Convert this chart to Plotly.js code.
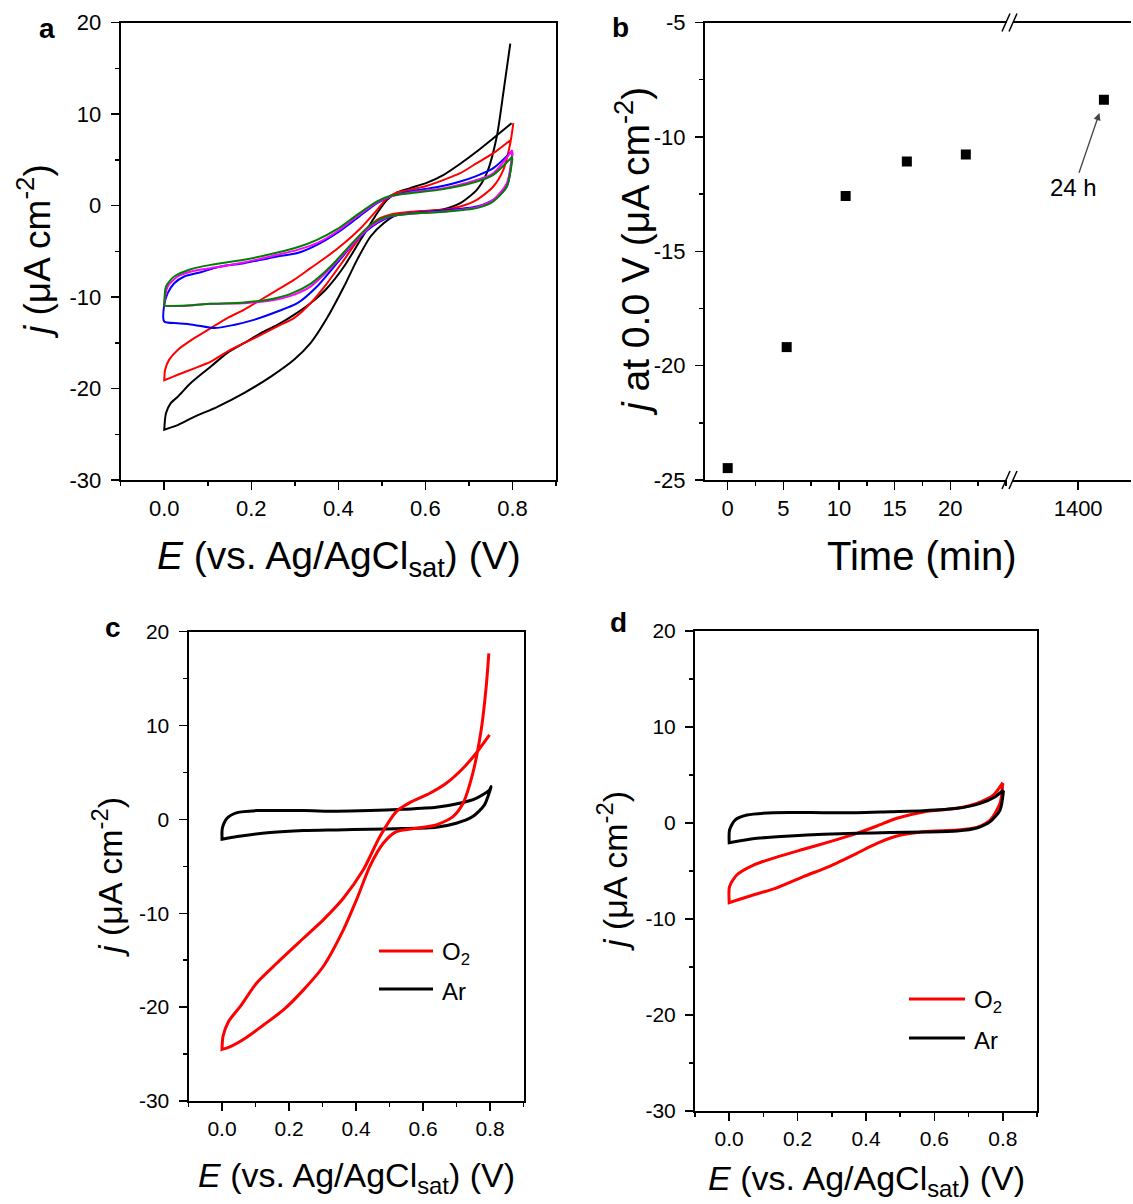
<!DOCTYPE html>
<html>
<head>
<meta charset="utf-8">
<script src="https://cdn.plot.ly/plotly-3.0.1.min.js"></script>
<style>
html,body{margin:0;padding:0;background:#fff;}
#chart{width:1133px;height:1204px;}
</style>
</head>
<body>
<div id="chart"></div>
<script>
// ---------------- DATA ----------------
// Panel a: CV cycles (upper branch / lower branch, E in V, j in uA cm-2)
const aBlackUpE = [0,0.004,0.015,0.031,0.061,0.107,0.145,0.183,0.222,0.26,0.298,0.336,0.374,0.413,0.451,0.489,0.512,0.535,0.565,0.604,0.642,0.68,0.718,0.756,0.798];
const aBlackUpJ = [-24.5,-22.7,-21.6,-20.9,-19.4,-17.6,-16.1,-15.05,-13.96,-13.05,-11.95,-10.68,-9.04,-6.67,-3.75,-0.84,0.62,1.42,1.9,2.5,3.35,4.56,5.9,7.36,9.0];
const aBlackLoE = [0,0.031,0.069,0.122,0.183,0.245,0.298,0.336,0.374,0.413,0.443,0.474,0.504,0.535,0.565,0.642,0.68,0.718,0.741,0.764,0.779,0.795];
const aBlackLoJ = [-24.5,-24.0,-23.1,-22.0,-20.5,-18.7,-16.87,-15.05,-12.3,-8.86,-5.94,-3.39,-1.93,-1.02,-0.77,-0.4,0.26,1.71,3.53,7.54,12.3,17.7];

const aRedUpE = [0,0.002,0.011,0.031,0.069,0.107,0.145,0.183,0.222,0.26,0.298,0.336,0.374,0.413,0.451,0.489,0.512,0.535,0.565,0.604,0.642,0.68,0.718,0.756,0.798];
const aRedUpJ = [-19.1,-17.97,-16.87,-15.78,-14.5,-13.4,-12.3,-11.4,-10.3,-9.22,-8.13,-6.85,-5.58,-4.12,-2.48,-0.47,0.8,1.42,1.71,2.15,2.8,3.53,4.63,5.72,7.25];
const aRedLoE = [0,0.031,0.069,0.107,0.145,0.183,0.222,0.26,0.298,0.336,0.374,0.413,0.451,0.489,0.527,0.565,0.642,0.68,0.718,0.756,0.779,0.795,0.802];
const aRedLoJ = [-19.1,-18.5,-17.8,-17.06,-15.96,-15.05,-14.14,-13.2,-12.3,-10.68,-8.5,-5.94,-3.39,-1.57,-0.91,-0.69,-0.47,-0.11,0.62,2.08,3.9,6.8,9.0];

const aBlueUpE = [0,0.008,0.023,0.046,0.084,0.122,0.183,0.222,0.26,0.306,0.351,0.397,0.443,0.489,0.52,0.565,0.604,0.642,0.68,0.718,0.756,0.798];
const aBlueUpJ = [-10.86,-9.58,-8.49,-7.76,-7.29,-6.74,-6.3,-5.94,-5.58,-5.2,-4.3,-3.0,-1.38,0.26,0.98,1.53,1.82,2.15,2.62,3.24,4.08,5.9];
const aBlueLoE = [0,0.031,0.069,0.115,0.16,0.206,0.26,0.306,0.351,0.397,0.443,0.489,0.527,0.565,0.642,0.718,0.756,0.787,0.8];
const aBlueLoJ = [-12.68,-12.86,-13.05,-13.4,-13.05,-12.5,-11.59,-10.68,-8.86,-6.3,-3.75,-1.93,-1.13,-0.84,-0.55,-0.11,0.62,2.08,5.72];

const aMagUpE = [0,0.008,0.031,0.069,0.107,0.183,0.26,0.306,0.351,0.397,0.443,0.489,0.52,0.565,0.642,0.718,0.756,0.8];
const aMagUpJ = [-10.86,-8.86,-7.76,-7.14,-6.85,-6.23,-5.39,-4.85,-4.12,-2.84,-1.2,0.33,0.98,1.42,1.9,2.8,3.53,6.08];
const aMagLoE = [0,0.046,0.107,0.183,0.245,0.29,0.336,0.382,0.428,0.474,0.512,0.565,0.642,0.718,0.756,0.787,0.8];
const aMagLoJ = [-10.93,-10.97,-10.75,-10.68,-10.39,-9.88,-8.86,-6.85,-4.48,-2.3,-1.28,-0.91,-0.66,-0.18,0.62,2.44,5.9];

const aGreenUpE = [0,0.004,0.023,0.061,0.107,0.183,0.26,0.306,0.351,0.397,0.443,0.489,0.52,0.565,0.642,0.718,0.756,0.8];
const aGreenUpJ = [-10.86,-8.86,-7.76,-6.96,-6.49,-5.94,-5.14,-4.56,-3.75,-2.59,-1.02,0.44,1.06,1.35,1.79,2.62,3.35,5.36];
const aGreenLoE = [0,0.053,0.107,0.183,0.245,0.29,0.336,0.382,0.428,0.474,0.512,0.565,0.642,0.718,0.756,0.787,0.8];
const aGreenLoJ = [-10.93,-10.93,-10.75,-10.6,-10.24,-9.66,-8.56,-6.67,-4.3,-2.11,-1.2,-0.91,-0.69,-0.29,0.44,2.08,5.17];

// Panel b: current at 0.0 V vs time
const bTime = [0, 5.3, 10.6, 16.1, 21.4, 1440];
const bJ    = [-24.48, -19.19, -12.58, -11.08, -10.77, -8.38];

// Panel c: O2 vs Ar
const cO2UpE = [0,0.003,0.02,0.055,0.104,0.164,0.243,0.302,0.362,0.421,0.471,0.52,0.56,0.62,0.669,0.719,0.758,0.798];
const cO2UpJ = [-24.5,-23.1,-21.5,-19.9,-17.4,-15.3,-12.66,-10.7,-8.4,-5.4,-1.83,0.83,1.79,2.79,3.85,5.45,7.05,9.0];
const cO2LoE = [0,0.025,0.074,0.124,0.183,0.243,0.302,0.362,0.401,0.441,0.481,0.52,0.58,0.639,0.689,0.719,0.748,0.773,0.788,0.796];
const cO2LoJ = [-24.5,-24.2,-23.2,-21.9,-20.3,-18.16,-15.67,-11.77,-8.58,-5.0,-2.54,-1.3,-0.94,-0.59,0.3,1.72,4.9,9.5,14.1,17.7];
const cArUpE = [0,0.001,0.015,0.045,0.104,0.243,0.342,0.441,0.54,0.639,0.709,0.758,0.798,0.803];
const cArUpJ = [-2.11,-0.94,0.13,0.73,0.94,0.94,0.87,0.94,1.08,1.3,1.72,2.25,3.14,3.5];
const cArLoE = [0,0.045,0.144,0.243,0.342,0.441,0.54,0.639,0.699,0.748,0.783,0.8,0.803];
const cArLoJ = [-2.11,-1.83,-1.4,-1.19,-1.12,-1.05,-0.98,-0.83,-0.41,0.3,1.55,3.14,3.5];

// Panel d: O2 vs Ar
const dO2UpE = [0,0.001,0.022,0.071,0.139,0.217,0.295,0.373,0.432,0.49,0.568,0.666,0.724,0.773,0.8];
const dO2UpJ = [-8.3,-6.63,-5.42,-4.38,-3.55,-2.74,-1.94,-1.08,-0.31,0.49,1.15,1.53,2.05,2.92,4.2];
const dO2LoE = [0,0.061,0.139,0.217,0.295,0.373,0.432,0.49,0.568,0.666,0.724,0.763,0.792,0.8];
const dO2LoJ = [-8.3,-7.6,-6.75,-5.59,-4.48,-3.16,-2.12,-1.35,-0.9,-0.73,-0.45,0.31,2.05,4.13];
const dArUpE = [0,0.001,0.017,0.052,0.13,0.276,0.373,0.471,0.568,0.666,0.734,0.778,0.802];
const dArUpJ = [-2.05,-0.73,0.31,0.83,1.08,1.08,1.08,1.18,1.28,1.53,2.05,2.74,3.44];
const dArLoE = [0,0.081,0.178,0.276,0.373,0.471,0.568,0.666,0.724,0.763,0.792,0.802];
const dArLoJ = [-2.05,-1.6,-1.35,-1.18,-1.08,-1.0,-0.94,-0.83,-0.52,0.14,1.35,3.37];

// Tick labels
const cvXTickVals = [0, 0.2, 0.4, 0.6, 0.8];
const cvXTickText = ['0.0', '0.2', '0.4', '0.6', '0.8'];
const cvYTickVals = [-30, -20, -10, 0, 10, 20];
const cvYTickText = ['-30', '-20', '-10', '0', '10', '20'];
const bXTickVals = [0, 5, 10, 15, 20];
const bXTickText = ['0', '5', '10', '15', '20'];
const bX2TickVals = [1400];
const bX2TickText = ['1400'];
const bYTickVals = [-25, -20, -15, -10, -5];
const bYTickText = ['-25', '-20', '-15', '-10', '-5'];
const legendNames = ['O<sub>2</sub>', 'Ar'];

// ---------------- LAYOUT HELPERS ----------------
const W = 1133, H = 1204;
const fx = p => p / W;
const fy = p => 1 - p / H;
const FONT = 'Arial, "Liberation Sans", Helvetica, sans-serif';

function loop(upE, upJ, loE, loJ) {
  return {
    x: upE.slice().reverse().concat(loE),
    y: upJ.slice().reverse().concat(loJ)
  };
}
function cvTrace(upE, upJ, loE, loJ, color, xa, ya, w, name) {
  const L = loop(upE, upJ, loE, loJ);
  return {x: L.x, y: L.y, xaxis: xa, yaxis: ya, type: 'scatter', mode: 'lines',
          name: name || '', showlegend: false,
          line: {color: color, width: w, shape: 'spline', smoothing: 0.7}};
}

const traces = [
  cvTrace(aBlackUpE, aBlackUpJ, aBlackLoE, aBlackLoJ, '#000000', 'x', 'y', 2),
  cvTrace(aRedUpE, aRedUpJ, aRedLoE, aRedLoJ, '#ff0000', 'x', 'y', 2),
  cvTrace(aBlueUpE, aBlueUpJ, aBlueLoE, aBlueLoJ, '#0000ff', 'x', 'y', 2),
  cvTrace(aMagUpE, aMagUpJ, aMagLoE, aMagLoJ, '#ff00ff', 'x', 'y', 2),
  cvTrace(aGreenUpE, aGreenUpJ, aGreenLoE, aGreenLoJ, '#008000', 'x', 'y', 2),
  {x: bTime.filter(t => t < 100), y: bJ.filter((v, i) => bTime[i] < 100), xaxis: 'x2', yaxis: 'y2',
   type: 'scatter', mode: 'markers', showlegend: false,
   marker: {symbol: 'square', size: 10, color: '#000'}},
  {x: bTime.filter(t => t >= 100), y: bJ.filter((v, i) => bTime[i] >= 100), xaxis: 'x3', yaxis: 'y2',
   type: 'scatter', mode: 'markers', showlegend: false,
   marker: {symbol: 'square', size: 10, color: '#000'}},
  cvTrace(cArUpE, cArUpJ, cArLoE, cArLoJ, '#000000', 'x4', 'y3', 3, 'Ar'),
  cvTrace(cO2UpE, cO2UpJ, cO2LoE, cO2LoJ, '#ff0000', 'x4', 'y3', 3, 'O2'),
  cvTrace(dO2UpE, dO2UpJ, dO2LoE, dO2LoJ, '#ff0000', 'x5', 'y4', 3, 'O2'),
  cvTrace(dArUpE, dArUpJ, dArLoE, dArLoJ, '#000000', 'x5', 'y4', 3, 'Ar')
];

function xAxis(d0, d1, anchor, range, fs, extra) {
  return Object.assign({
    domain: [fx(d0), fx(d1)], anchor: anchor, range: range,
    showline: true, linecolor: '#000', linewidth: 2, mirror: true,
    ticks: 'outside', ticklen: 8, tickwidth: 1.5, tickcolor: '#000',
    showgrid: false, zeroline: false, fixedrange: true,
    tickfont: {family: FONT, size: fs, color: '#000'},
    ticklabelstandoff: 0,
    tickmode: 'array', tickvals: cvXTickVals, ticktext: cvXTickText,
    minor: {tickmode: 'linear', tick0: 0, dtick: 0.1, ticks: 'outside', ticklen: 4, tickwidth: 1.5, tickcolor: '#000', showgrid: false}
  }, extra || {});
}
function yAxis(top, bottom, anchor, range, fs, extra) {
  return Object.assign({
    domain: [fy(bottom), fy(top)], anchor: anchor, range: range,
    showline: true, linecolor: '#000', linewidth: 2, mirror: true,
    ticks: 'outside', ticklen: 8, tickwidth: 1.5, tickcolor: '#000',
    showgrid: false, zeroline: false, fixedrange: true,
    tickfont: {family: FONT, size: fs, color: '#000'},
    ticklabelstandoff: 5,
    tickmode: 'array', tickvals: cvYTickVals, ticktext: cvYTickText,
    minor: {tickmode: 'linear', tick0: 0, dtick: 5, ticks: 'outside', ticklen: 4, tickwidth: 1.5, tickcolor: '#000', showgrid: false}
  }, extra || {});
}

const layout = {
  width: W, height: H,
  margin: {l: 0, r: 0, t: 0, b: 0},
  paper_bgcolor: '#fff', plot_bgcolor: '#fff',
  showlegend: false,
  font: {family: FONT, color: '#000'},
  xaxis: xAxis(120.7, 556, 'y', [-0.1, 0.9], 22),
  yaxis: yAxis(22.5, 480, 'x', [-30, 20], 22),
  xaxis2: xAxis(705, 1007, 'y2', [-2.04, 25.1], 22,
    {tickvals: bXTickVals, ticktext: bXTickText,
     minor: {tickmode: 'linear', tick0: 0, dtick: 2.5, ticks: 'outside', ticklen: 4, tickwidth: 1.5, tickcolor: '#000', showgrid: false}}),
  xaxis3: xAxis(1013, 1131, 'y2', [1299, 1482], 22,
    {tickvals: bX2TickVals, ticktext: bX2TickText, minor: {ticks: ''}}),
  yaxis2: yAxis(22.5, 480, 'x2', [-25, -5], 22,
    {mirror: false, tickvals: bYTickVals, ticktext: bYTickText,
     minor: {tickmode: 'linear', tick0: 0, dtick: 2.5, ticks: 'outside', ticklen: 4, tickwidth: 1.5, tickcolor: '#000', showgrid: false}}),
  xaxis4: xAxis(188.5, 523.7, 'y3', [-0.1, 0.9], 21),
  yaxis3: yAxis(631.7, 1101, 'x4', [-30, 20], 21),
  xaxis5: xAxis(695, 1037, 'y4', [-0.1, 0.9], 21),
  yaxis4: yAxis(631, 1111, 'x5', [-30, 20], 21),
  shapes: [],
  annotations: []
};

// axis break marks for panel b
function slash(xc, yc) {
  return {type: 'line', xref: 'paper', yref: 'paper',
          x0: fx(xc - 4), y0: fy(yc + 9), x1: fx(xc + 4), y1: fy(yc - 9),
          line: {color: '#000', width: 1.5}};
}
[22.5, 480].forEach(yc => {
  layout.shapes.push(slash(1006, yc));
  layout.shapes.push(slash(1013, yc));
});

// manual legends for c and d
function legendItem(x0, x1, y, color, text, fs) {
  layout.shapes.push({type: 'line', xref: 'paper', yref: 'paper',
    x0: fx(x0), x1: fx(x1), y0: fy(y), y1: fy(y), line: {color: color, width: 3}});
  layout.annotations.push({xref: 'paper', yref: 'paper', x: fx(x1 + 7), y: fy(y + 2),
    xanchor: 'left', yanchor: 'middle', text: text, showarrow: false,
    font: {family: FONT, size: fs, color: '#000'}});
}
legendItem(379, 433, 951, '#ff0000', legendNames[0], 24);
legendItem(379, 433, 989, '#000000', legendNames[1], 24);
legendItem(909, 965, 999, '#ff0000', legendNames[0], 24);
legendItem(909, 965, 1038, '#000000', legendNames[1], 24);

function txt(x, y, text, size, opts) {
  layout.annotations.push(Object.assign({xref: 'paper', yref: 'paper', x: fx(x), y: fy(y),
    xanchor: 'center', yanchor: 'middle', text: text, showarrow: false,
    font: {family: FONT, size: size, color: '#000'}}, opts || {}));
}
// panel letters
txt(47, 28, '<b>a</b>', 28);
txt(620, 27, '<b>b</b>', 28);
txt(113, 627, '<b>c</b>', 28);
txt(618, 622, '<b>d</b>', 28);
// axis titles
const eTitle = '<i>E</i> (vs. Ag/AgCl<sub>sat</sub>) (V)';
const jTitle = '<i>j</i> (μA cm<sup>-2</sup>)';
txt(339, 558, eTitle, 39);
txt(34, 252, jTitle, 37, {textangle: -90});
txt(922, 556, 'Time (min)', 40);
txt(632, 252, '<i>j</i> at 0.0 V (μA cm<sup>-2</sup>)', 39, {textangle: -90});
txt(356, 1177, eTitle, 34);
txt(107, 877, jTitle, 34, {textangle: -90});
txt(866, 1180, eTitle, 34);
txt(612, 871, jTitle, 34, {textangle: -90});

// 24 h arrow annotation
layout.annotations.push({xref: 'x3', yref: 'y2', x: bTime[5], y: bJ[5],
  text: '24 h', showarrow: true, arrowhead: 2, arrowsize: 1.1, arrowwidth: 1.3,
  standoff: 14, ax: -30, ay: 88, font: {family: FONT, size: 24, color: '#000'}});

Plotly.newPlot('chart', traces, layout, {displayModeBar: false, staticPlot: true});
</script>
</body>
</html>
